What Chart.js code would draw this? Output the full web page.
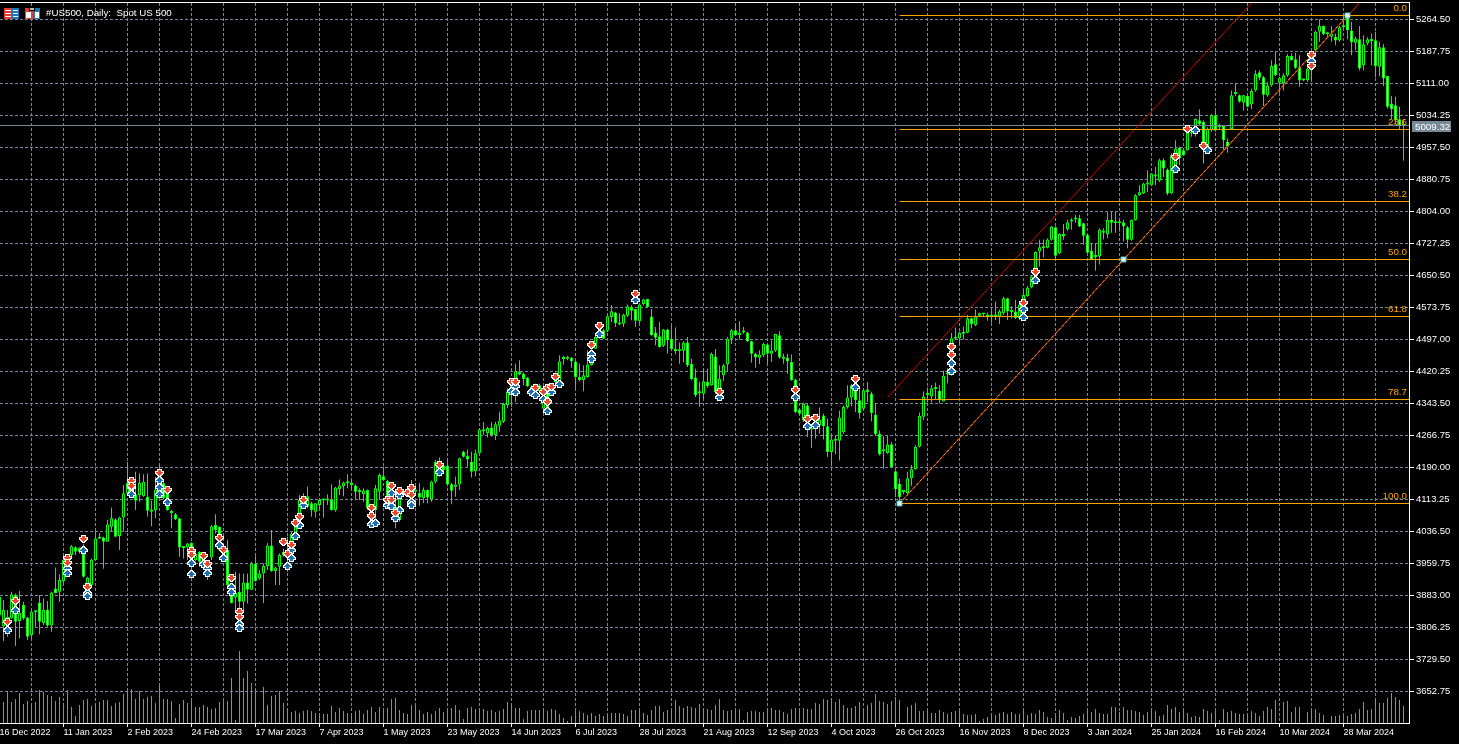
<!DOCTYPE html>
<html>
<head>
<meta charset="utf-8">
<title>#US500, Daily</title>
<script src="https://cdn.jsdelivr.net/npm/chart.js@4/dist/chart.umd.min.js"></script>
<style>
 html,body{margin:0;padding:0;background:#000;}
 canvas{display:block;}
</style>
</head>
<body>
<canvas id="chart1" width="1459" height="744"></canvas>
<script>
// daily candles, one entry per bar
const opens = [
3835,3809,3816,3828,3884,3822,3861,3830,3788,3843,
3866,3817,3849,3811,3900,3892,3918,3936,3980,3999,
3988,3984,3908,3908,3968,4021,4022,4012,4048,4065,
4026,4070,4128,4152,4126,4124,4121,4120,4084,4088,
4128,4152,4128,4083,4078,4068,3997,3998,4009,3968,
3988,3972,3964,3974,4052,4048,3996,3993,3908,3878,
3892,3868,3914,3897,3960,3924,3936,3953,4003,3942,
3952,3980,3972,3992,4028,4056,4096,4096,4104,4084,
4100,4111,4113,4112,4088,4138,4145,4152,4154,4147,
4133,4126,4136,4096,4088,4132,4169,4158,4104,4096,
4064,4124,4132,4136,4132,4129,4116,4136,4113,4156,
4172,4195,4194,4150,4144,4149,4228,4218,4204,4181,
4224,4277,4272,4286,4268,4290,4300,4340,4367,4387,
4419,4415,4405,4383,4387,4373,4331,4387,4371,4395,
4391,4450,4451,4453,4444,4407,4399,4407,4435,4475,
4503,4519,4518,4551,4562,4533,4535,4554,4575,4570,
4541,4582,4594,4552,4514,4505,4482,4521,4499,4475,
4469,4470,4490,4439,4406,4368,4367,4395,4387,4456,
4370,4411,4437,4499,4519,4507,4514,4514,4493,4463,
4453,4459,4485,4463,4470,4507,4453,4454,4443,4401,
4329,4303,4339,4281,4286,4291,4315,4289,4227,4254,
4254,4275,4335,4358,4385,4351,4331,4377,4367,4317,
4271,4229,4225,4246,4181,4151,4131,4128,4164,4186,
4240,4312,4364,4360,4378,4374,4348,4413,4416,4499,
4500,4511,4513,4548,4532,4554,4557,4552,4552,4552,
4552,4560,4596,4563,4564,4548,4572,4601,4622,4648,
4708,4716,4717,4736,4766,4704,4750,4762,4780,4785,
4788,4776,4748,4710,4695,4696,4753,4750,4784,4776,
4776,4778,4766,4736,4783,4843,4847,4869,4867,4888,
4878,4927,4905,4847,4915,4957,4951,4951,4991,5007,
5023,5019,4959,4999,5035,5006,5009,4972,5002,5086,
5083,5065,5081,5061,5094,5138,5126,5082,5107,5157,
5113,5111,5130,5177,5169,5150,5118,5119,5143,5191,
5235,5249,5229,5223,5223,5214,5246,5271,5238,5209,
5217,5154,5207,5217,5215,5151,5198,5129,5063,5059,
5025,5012];
const highs = [
3895,3872,3848,3892,3888,3894,3868,3832,3848,3848,
3884,3876,3870,3892,3950,3934,3974,3980,4004,4001,
3999,4007,3928,3972,4038,4033,4024,4064,4094,4068,
4072,4148,4203,4156,4180,4176,4174,4176,4110,4168,
4200,4156,4144,4088,4081,4068,4001,4009,4011,3988,
3989,3976,3968,4052,4078,4049,4000,4017,3912,3940,
3936,3936,3936,3964,3977,3944,3960,4009,4040,3952,
3984,3996,4024,4036,4052,4124,4128,4144,4108,4105,
4113,4116,4126,4150,4144,4161,4156,4174,4160,4150,
4140,4140,4137,4100,4148,4176,4192,4160,4148,4128,
4128,4136,4136,4160,4144,4152,4142,4137,4158,4208,
4214,4196,4211,4152,4168,4214,4230,4233,4228,4233,
4284,4299,4288,4299,4300,4324,4345,4380,4399,4439,
4447,4418,4407,4387,4391,4391,4379,4391,4391,4418,
4459,4458,4458,4455,4446,4439,4435,4471,4491,4507,
4535,4523,4559,4579,4563,4560,4559,4581,4579,4571,
4583,4595,4595,4570,4527,4539,4522,4523,4530,4526,
4490,4493,4503,4451,4427,4395,4427,4427,4466,4474,
4435,4439,4503,4522,4534,4541,4527,4515,4494,4465,
4471,4489,4487,4495,4511,4517,4463,4462,4461,4403,
4331,4345,4343,4287,4307,4334,4319,4307,4267,4267,
4327,4339,4387,4390,4407,4379,4379,4395,4371,4343,
4279,4265,4267,4251,4183,4163,4136,4180,4196,4244,
4322,4372,4382,4388,4394,4388,4422,4428,4513,4526,
4516,4528,4556,4550,4569,4561,4560,4561,4574,4588,
4569,4600,4597,4577,4592,4584,4616,4625,4649,4708,
4736,4737,4740,4769,4768,4752,4774,4784,4788,4796,
4796,4777,4749,4728,4728,4764,4764,4803,4803,4804,
4785,4784,4769,4785,4846,4867,4873,4903,4897,4911,
4931,4931,4907,4943,4975,4959,4955,5003,4999,5027,
5049,5022,5006,5038,5046,5014,5011,4979,5094,5111,
5085,5084,5083,5099,5143,5142,5129,5115,5167,5189,
5127,5135,5182,5183,5185,5179,5123,5150,5190,5238,
5265,5251,5235,5249,5231,5249,5275,5276,5259,5223,
5249,5227,5222,5231,5235,5211,5206,5129,5081,5079,
5055,5025];
const lows = [
3807,3774,3784,3828,3762,3780,3825,3776,3780,3808,
3790,3812,3808,3796,3888,3868,3912,3932,3976,3980,
3984,3926,3876,3908,3966,4019,3947,4012,4036,4024,
3992,4036,4126,4128,4088,4108,4120,4072,4049,4068,
4126,4113,4086,4044,4064,3976,3972,3968,3940,3966,
3952,3952,3920,3968,4032,3992,3968,3904,3864,3848,
3848,3848,3864,3896,3916,3920,3865,3944,3940,3908,
3908,3976,3940,3988,4024,4052,4092,4092,4072,4070,
4088,4070,4100,4086,4084,4124,4121,4140,4136,4112,
4112,4108,4088,4068,4056,4112,4158,4112,4088,4044,
4060,4120,4120,4092,4128,4098,4104,4104,4108,4152,
4168,4176,4145,4102,4120,4136,4214,4192,4166,4169,
4222,4268,4262,4264,4256,4276,4297,4332,4335,4347,
4411,4387,4383,4367,4355,4370,4327,4327,4367,4391,
4387,4437,4447,4429,4379,4397,4373,4405,4434,4474,
4499,4498,4515,4539,4527,4531,4527,4551,4543,4527,
4535,4579,4573,4506,4483,4477,4479,4463,4471,4461,
4439,4442,4431,4399,4359,4335,4355,4381,4386,4367,
4367,4398,4421,4486,4506,4497,4511,4491,4441,4429,
4438,4455,4439,4443,4467,4451,4439,4415,4398,4321,
4315,4299,4263,4237,4259,4271,4257,4215,4193,4222,
4207,4271,4331,4337,4323,4307,4327,4347,4301,4267,
4219,4187,4223,4190,4119,4105,4126,4126,4146,4184,
4238,4304,4346,4346,4354,4344,4348,4392,4410,4496,
4484,4497,4512,4524,4529,4552,4552,4542,4537,4544,
4534,4556,4544,4547,4546,4544,4568,4600,4620,4644,
4672,4694,4716,4734,4689,4702,4736,4758,4760,4777,
4766,4724,4702,4688,4662,4677,4737,4740,4753,4753,
4756,4732,4716,4734,4782,4842,4846,4851,4865,4867,
4875,4887,4843,4846,4911,4915,4937,4950,4983,4983,
5009,4919,4947,4995,4995,5001,4951,4945,5001,5081,
5065,5046,5054,5049,5091,5119,5057,5079,5103,5129,
5089,5094,5127,5166,5145,5103,5117,5115,5115,5175,
5211,5227,5223,5211,5203,5211,5241,5217,5179,5191,
5142,5143,5203,5155,5126,5129,5105,5051,5025,5014,
5001,4926];
const closes = [
3880,3849,3832,3886,3820,3841,3828,3784,3844,3845,
3820,3848,3811,3890,3889,3920,3969,3974,4001,3988,
3998,3928,3926,3969,4020,4019,4012,4053,4068,4024,
4070,4128,4153,4134,4110,4153,4156,4086,4089,4137,
4160,4116,4088,4081,4066,3998,4001,4008,3952,3984,
3964,3956,3944,4049,4040,3992,3984,3908,3865,3889,
3868,3914,3897,3960,3918,3936,3954,4003,3942,3950,
3980,3988,3988,4032,4048,4112,4120,4121,4088,4104,
4112,4113,4111,4088,4142,4147,4154,4154,4148,4132,
4131,4135,4092,4072,4140,4172,4160,4116,4144,4062,
4124,4132,4124,4096,4137,4118,4136,4118,4156,4204,
4196,4184,4149,4134,4149,4212,4216,4209,4180,4224,
4281,4279,4285,4268,4294,4303,4342,4372,4391,4421,
4413,4402,4385,4371,4359,4387,4375,4331,4387,4413,
4445,4452,4453,4445,4407,4399,4411,4437,4447,4503,
4531,4499,4553,4565,4536,4535,4557,4577,4566,4542,
4581,4593,4575,4507,4501,4479,4521,4495,4474,4469,
4471,4490,4435,4402,4363,4370,4397,4385,4462,4371,
4403,4435,4499,4519,4507,4514,4516,4493,4463,4454,
4461,4486,4463,4470,4510,4454,4451,4444,4399,4323,
4319,4343,4295,4283,4303,4305,4289,4227,4257,4256,
4310,4335,4358,4387,4351,4321,4375,4371,4321,4270,
4221,4231,4245,4191,4138,4119,4133,4164,4186,4240,
4314,4360,4366,4380,4380,4352,4410,4415,4500,4501,
4513,4513,4548,4534,4553,4560,4559,4554,4554,4554,
4565,4596,4564,4568,4548,4581,4604,4622,4648,4707,
4718,4718,4737,4768,4698,4750,4744,4778,4785,4787,
4768,4746,4705,4689,4697,4761,4758,4784,4777,4778,
4778,4768,4736,4784,4843,4850,4871,4871,4895,4890,
4927,4907,4847,4939,4955,4931,4939,4993,4993,5026,
5014,4963,5002,5035,4998,5008,4975,4959,5083,5088,
5067,5083,5055,5093,5134,5125,5084,5106,5153,5131,
5125,5131,5177,5167,5149,5118,5120,5146,5187,5235,
5249,5229,5231,5231,5214,5246,5248,5239,5210,5219,
5147,5205,5217,5213,5153,5198,5123,5055,5050,5023,
5011,5009.32];
const volumes = [
21,21,32,21,24,30,19,22,19,21,
33,31,28,27,22,26,17,33,16,7,
18,23,24,17,19,21,23,23,17,20,
21,29,33,34,24,32,24,26,27,20,
37,24,24,22,5,19,23,20,22,16,
16,18,16,14,15,21,22,22,45,3,
72,45,52,40,33,1,36,18,27,28,
32,20,14,11,12,10,12,13,12,10,
10,9,9,17,11,15,12,10,9,12,
13,9,13,16,11,16,13,15,24,25,
13,10,9,18,18,13,9,11,9,12,
15,11,13,15,18,13,4,15,16,14,
13,14,12,13,11,12,14,21,19,15,
15,4,12,13,13,13,15,12,14,13,
9,5,2,7,12,12,10,8,10,7,
9,7,8,10,10,10,9,7,13,13,
13,10,8,13,17,17,11,13,13,23,
17,15,17,16,15,19,14,14,13,18,
24,13,12,13,13,14,3,11,12,12,
11,11,14,15,13,13,11,9,14,15,
13,15,14,14,20,19,24,23,25,21,
24,18,15,15,17,21,15,18,20,29,
22,21,19,22,26,23,0,16,18,20,
12,12,12,10,10,13,11,9,11,12,
13,9,8,8,9,2,4,6,8,8,
10,11,9,11,9,9,13,8,10,9,
13,11,6,5,9,13,10,3,6,5,
7,9,13,11,14,10,9,9,16,16,
11,16,13,13,12,11,8,11,13,12,
7,8,18,14,16,11,13,10,6,7,
6,14,12,10,12,3,14,11,12,10,
9,9,9,12,10,7,12,16,14,23,
0,21,22,11,16,16,0,11,13,14,
10,8,0,7,7,8,7,7,9,10,
14,21,13,14,25,20,20,25,30,26,
23,17];

// signal arrows, bar number and price
const sellBars = [2,4,17,17,21,22,33,33,40,42,48,48,51,52,55,56,58,60,60,71,72,73,74,75,76,93,93,97,98,98,99,100,102,103,103,110,
128,129,134,136,137,137,138,139,148,150,159,180,199,202,204,214,238,238,256,259,294,297,301,328,328];
const sellPrices = [3820,3870,3974,3961,4019,3904,4158,4145,4177,4137,3989,3980,3977,3958,4021,3993,3926,3844,3832,4012,3982,4004,4056,4072,4112,4094,4073,4113,4145,4113,4081,4134,4129,4142,4123,4196,
4394,4395,4381,4370,4381,4346,4382,4407,4483,4530,4605,4371,4375,4306,4309,4403,4478,4460,4584,4660,4934,5003,4962,5180,5154];
const buyBars = [2,4,17,17,21,22,22,33,33,40,40,40,42,48,48,51,52,52,55,56,58,58,60,60,72,73,73,74,75,76,93,94,97,98,98,99,100,100,103,103,110,
128,129,129,133,134,136,137,137,138,140,148,148,150,159,180,199,202,204,214,238,238,256,256,259,294,299,302,328];
const buyPrices = [3800,3848,3948,3936,3992,3888,3881,4144,4126,4160,4144,4126,4108,3960,3934,3958,3948,3936,4004,3974,3904,3892,3814,3804,3953,3993,3974,4025,4052,4099,4054,4058,4100,4128,4098,4070,4124,4089,4108,4100,4180,
4373,4385,4371,4370,4365,4355,4350,4325,4370,4391,4462,4450,4509,4591,4359,4358,4289,4293,4382,4440,4421,4569,4552,4640,4907,4999,4951,5165];

// axes
const priceTicks = [3652.75,3729.50,3806.25,3883.00,3959.75,4036.50,4113.25,4190.00,4266.75,4343.50,4420.25,4497.00,4573.75,4650.50,4727.25,4804.00,4880.75,4957.50,5034.25,5111.00,5187.75,5264.50];
const dateLabels = ['16 Dec 2022','11 Jan 2023','2 Feb 2023','24 Feb 2023','17 Mar 2023','7 Apr 2023','1 May 2023','23 May 2023','14 Jun 2023','6 Jul 2023','28 Jul 2023','21 Aug 2023','12 Sep 2023','4 Oct 2023','26 Oct 2023','16 Nov 2023','8 Dec 2023','3 Jan 2024','25 Jan 2024','16 Feb 2024','10 Mar 2024','28 Mar 2024'];
const labelEvery = 16;
const gridEvery = 8;

// fibo levels from the October low to the April high
const fiboStartBar = 225;
const fiboPrices = [5274.1,5000.7,4828,4688.9,4552.2,4353.1,4103.7];
const fiboLabels = ['0.0','23.6','38.2','50.0','61.8','78.7','100.0'];
const bidPrice = 5009.32;
const bidLineLevel = 5010.3;

// channel lines, [bar, price]
const upperChannel = [[222,4358],[313,5304]];
const lowerChannel = [[225,4103.7],[340,5304]];
const fiboDiagonal = [[225,4103.7],[337,5274.1]];
const anchorBars = [225,281,337];
const anchorPrices = [4103.7,4688.9,5274.1];

const xMin = 0.125, xMax = 352.375;
const yMin = 3577.2, yMax = 5304.07;

const FONT = '9.75px "Liberation Sans"';
const GRID = '#778899';
const ORANGE = '#ffa500';

// little pixel arrows used as point images
const sellShape = [
 '..WWWWW..',
 '..WCCCW..',
 'WWWCCCWWW',
 'WCCCCCCCW',
 'WWCCCCCWW',
 '.WWCCCWW.',
 '..WWCWW..',
 '...WWW...'];
function arrowImage(rows, color){
  const c = document.createElement('canvas');
  c.width = 9; c.height = rows.length;
  const x = c.getContext('2d');
  rows.forEach((row, r) => {
    for (let i = 0; i < row.length; i++) {
      if (row[i] === '.') continue;
      x.fillStyle = row[i] === 'W' ? '#ffffff' : color;
      x.fillRect(i, r, 1, 1);
    }
  });
  return c;
}
const sellArrow = arrowImage(sellShape, '#e8472b');
const buyArrow = arrowImage(sellShape.slice().reverse(), '#1c6fb4');

function lineSet(points, color, order, dash, width){
  return {
    type: 'line',
    data: points.map(p => ({x: p[0], y: p[1]})),
    borderColor: color,
    borderWidth: width || 1,
    borderDash: dash || [],
    pointRadius: 0,
    fill: false,
    order: order
  };
}

const datasets = [];
// volume
datasets.push({
  data: volumes.map((v, i) => ({x: i, y: v})),
  yAxisID: 'vol',
  backgroundColor: '#32cd32',
  barPercentage: 1,
  maxBarThickness: 1,
  inflateAmount: 0,
  grouped: false,
  order: 9
});
// wicks
datasets.push({
  data: highs.map((h, i) => ({x: i, y: [lows[i], h]})),
  backgroundColor: '#00ff00',
  barPercentage: 1,
  maxBarThickness: 1,
  inflateAmount: 0,
  grouped: false,
  order: 8
});
// bodies, down days are filled white
datasets.push({
  data: opens.map((o, i) => ({x: i, y: [o, closes[i]]})),
  backgroundColor: ctx => opens[ctx.dataIndex] > closes[ctx.dataIndex] ? '#ffffff' : '#000000',
  borderColor: '#00ff00',
  borderWidth: 1,
  borderSkipped: false,
  barPercentage: 1,
  maxBarThickness: 3,
  minBarLength: 2,
  inflateAmount: 0,
  grouped: false,
  order: 7
});
// bid line and fibo levels
datasets.push(lineSet([[xMin, bidLineLevel], [xMax, bidLineLevel]], GRID, 6));
fiboPrices.forEach(p => datasets.push(lineSet([[fiboStartBar, p], [xMax, p]], ORANGE, 5)));
// channel
datasets.push(lineSet(upperChannel, '#d00000', 5));
datasets.push(lineSet(lowerChannel, '#e0200a', 5));
datasets.push(lineSet(fiboDiagonal, ORANGE, 4, [3, 2]));
// anchors of the fibo
datasets.push({
  type: 'scatter',
  data: anchorBars.map((b, i) => ({x: b, y: anchorPrices[i]})),
  pointStyle: 'rect',
  pointRadius: 3.5,
  backgroundColor: '#eeeeee',
  borderColor: '#40d0d0',
  borderWidth: 1,
  order: 3
});
// signals
datasets.push({
  type: 'scatter',
  data: buyBars.map((b, i) => ({x: b, y: buyPrices[i]})),
  pointStyle: buyArrow,
  order: 2
});
datasets.push({
  type: 'scatter',
  data: sellBars.map((b, i) => ({x: b, y: sellPrices[i]})),
  pointStyle: sellArrow,
  order: 1
});

// header, fibo captions, bid box and top border
const overlay = {
  id: 'overlay',
  beforeDatasetsDraw(chart){
    // keep the arrow images sharp
    chart.ctx.imageSmoothingEnabled = false;
  },
  afterDatasetsDraw(chart){
    const c = chart.ctx, area = chart.chartArea, yScale = chart.scales.y;
    c.save();
    c.fillStyle = '#ffffff';
    c.fillRect(0, area.top - 1, area.right + 1, 1);

    // icons next to the symbol
    c.fillStyle = '#e53935'; c.fillRect(4, 8, 8, 11);
    c.fillStyle = '#1976b8'; c.fillRect(12, 8, 7, 11);
    c.fillStyle = '#ffffff';
    [10, 13, 16].forEach(y => { c.fillRect(5, y, 6, 1); c.fillRect(13, y, 5, 1); });
    c.fillStyle = '#e53935'; c.fillRect(25, 8, 8, 11);
    c.fillStyle = '#1976b8'; c.fillRect(33, 8, 7, 11);
    c.fillStyle = '#ffffff'; c.fillRect(26, 12, 5, 6); c.fillRect(35, 12, 4, 6);
    c.fillStyle = '#000000'; c.fillRect(29, 8, 6, 3);
    c.fillStyle = '#bbbbbb'; c.fillRect(30, 8, 4, 2);

    c.font = FONT;
    c.textBaseline = 'middle';
    c.textAlign = 'left';
    c.fillStyle = '#ffffff';
    c.fillText('#US500, Daily:  Spot US 500', 46, 13);

    c.textAlign = 'right';
    c.fillStyle = ORANGE;
    fiboPrices.forEach((p, i) => {
      c.fillText(fiboLabels[i], area.right - 2, yScale.getPixelForValue(p) - 7);
    });

    const by = Math.round(yScale.getPixelForValue(bidPrice));
    c.fillStyle = GRID;
    c.fillRect(area.right + 3, by - 5, 39, 11);
    c.fillStyle = '#ffffff';
    c.textAlign = 'left';
    c.fillText(bidPrice.toFixed(2), area.right + 6, by + 1);
    c.restore();
  }
};

const xGridValues = [];
for (let i = 0; i <= (dateLabels.length - 1) * labelEvery + gridEvery; i += gridEvery) xGridValues.push(i);

new Chart(document.getElementById('chart1').getContext('2d'), {
  type: 'bar',
  data: {datasets: datasets},
  plugins: [overlay],
  options: {
    responsive: false,
    animation: false,
    devicePixelRatio: 1,
    layout: {autoPadding: false, padding: {top: 3, left: 0, right: 0, bottom: 0}},
    plugins: {legend: {display: false}, tooltip: {enabled: false}},
    scales: {
      x: {
        type: 'linear',
        offset: false,
        min: xMin,
        max: xMax,
        afterBuildTicks: scale => { scale.ticks = xGridValues.map(v => ({value: v})); },
        afterFit: scale => {
          scale.height = 21;
          scale.paddingLeft = 0;
          scale.paddingRight = 0;
        },
        grid: {
          color: GRID,
          offset: false,
          tickLength: 4,
          tickBorderDash: [],
          tickColor: ctx => ctx.tick && ctx.tick.value % labelEvery === 0 ? '#ffffff' : 'transparent'
        },
        border: {color: '#ffffff', width: 1, dash: [3, 2]},
        ticks: {
          color: '#ffffff',
          font: {family: 'Liberation Sans', size: 9},
          align: 'start',
          padding: 0,
          autoSkip: false,
          maxRotation: 0,
          callback: v => v % labelEvery === 0 ? dateLabels[v / labelEvery] : ''
        }
      },
      y: {
        position: 'right',
        min: yMin,
        max: yMax,
        afterBuildTicks: scale => { scale.ticks = priceTicks.map(v => ({value: v})); },
        afterFit: scale => {
          scale.width = 50;
          scale.paddingTop = 0;
          scale.paddingBottom = 0;
        },
        grid: {color: GRID, tickLength: 5, tickColor: '#ffffff', tickBorderDash: []},
        border: {color: '#ffffff', width: 1, dash: [3, 2]},
        ticks: {
          color: '#ffffff',
          font: {family: 'Liberation Sans', size: 9.5},
          padding: 2,
          autoSkip: false,
          callback: v => v.toFixed(2)
        }
      },
      vol: {
        display: false,
        min: 0,
        max: 720
      }
    }
  }
});
</script>
</body>
</html>
